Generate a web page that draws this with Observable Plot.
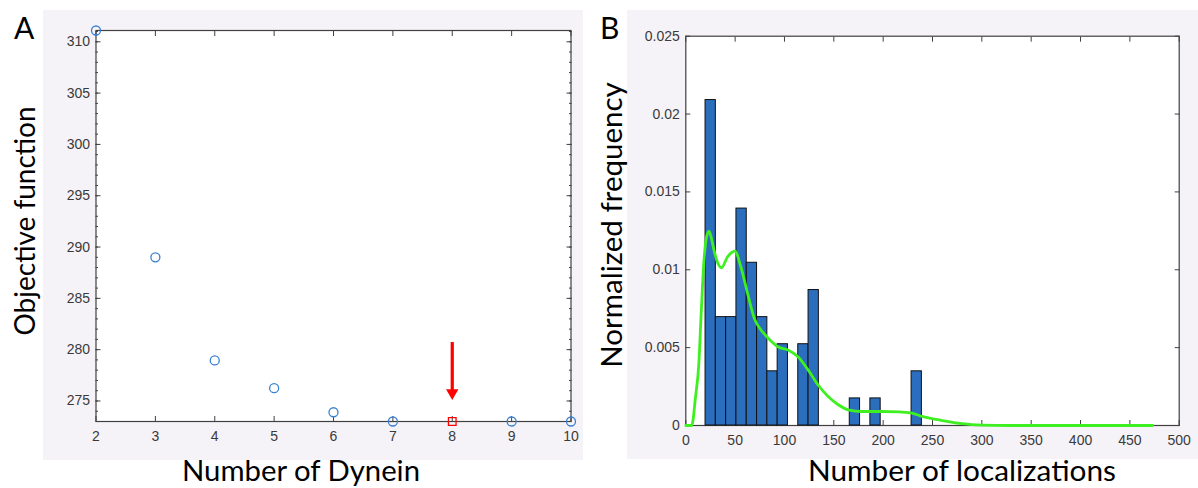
<!DOCTYPE html>
<html><head><meta charset="utf-8">
<script src="https://cdn.jsdelivr.net/npm/d3@7"></script>
<script src="https://cdn.jsdelivr.net/npm/@observablehq/plot@0.6"></script>
<style>
html,body{margin:0;padding:0;background:#fff;}
#root{position:relative;width:1198px;height:488px;overflow:hidden;font-family:Lato,"Open Sans",sans-serif;}
.bg{position:absolute;background:#f6f3f8;}
.panel{position:absolute;top:0;}
.lbl{position:absolute;white-space:nowrap;color:#000;line-height:1;}
.rot{transform:translate(-50%,-50%) rotate(-90deg);}
.hx{transform:translate(-50%,0);}
</style></head><body>
<div id="root">
  <div class="bg" style="left:43px;top:10px;width:540px;height:450px"></div>
  <div class="bg" style="left:627px;top:10px;width:571px;height:449px"></div>
  <div id="pa" class="panel" style="left:0"></div>
  <div id="pb" class="panel" style="left:590px"></div>
  <div class="lbl" style="left:14px;top:12px;font-size:30px">A</div>
  <div class="lbl" style="left:600px;top:12px;font-size:30px">B</div>
  <div class="lbl rot" style="left:24px;top:221px;font-size:28px">Objective function</div>
  <div class="lbl rot" style="left:611px;top:225px;font-size:29.5px">Normalized frequency</div>
  <div class="lbl hx" style="left:301px;top:455px;font-size:29.3px">Number of Dynein</div>
  <div class="lbl hx" style="left:962px;top:455px;font-size:29.8px">Number of localizations</div>
</div>
<script>
// ---------- Panel A data ----------
const dyneinCounts   = [2, 3, 4, 5, 6, 7, 8, 9, 10];
const objectiveValue = [311.1, 289.0, 278.95, 276.25, 273.9, 273.0, 273.0, 273.0, 273.0];
const bestCount = 8;
const arrowStart = 280.7, arrowTip = 275.1;
const xTicksA = [2, 3, 4, 5, 6, 7, 8, 9, 10];
const yTicksA = [275, 280, 285, 290, 295, 300, 305, 310];
const yMinorA = d3.range(273, 312, 1);

// ---------- Panel B data ----------
const binStart = 20, binWidth = 10.44;
const binFrequency = [0.0209, 0.00696, 0.00696, 0.01393, 0.01045, 0.00696, 0.00348, 0.00522, 0,
                      0.00522, 0.0087, 0, 0, 0, 0.00174, 0, 0.00174, 0, 0, 0, 0.00348];
const kdeX = [0, 6, 9.8, 13.2, 15.6, 18.2, 21, 23.5, 26, 28.6, 32, 36.1, 42.2, 49.7, 55.8, 62.6, 69.4,
              76.2, 83.7, 93.3, 103.5, 113.7, 123.9, 134.1, 144.3, 154.5, 164.7, 178.3, 198.7, 215.7,
              229.3, 239.5, 259.9, 280, 300, 330, 473];
const kdeY = [0, 0, 0.0018, 0.00396, 0.0072, 0.0104, 0.0121, 0.01248, 0.012, 0.01125, 0.0105, 0.01013,
              0.01082, 0.0112, 0.01018, 0.00848, 0.00688, 0.00613, 0.0056, 0.00506, 0.00485, 0.00442,
              0.00357, 0.0026, 0.00186, 0.00133, 0.001, 0.0009, 0.0009, 0.00088, 0.0008, 0.00058,
              0.00032, 0.00012, 0.00003, 0, 0];
const xTicksB = [0, 50, 100, 150, 200, 250, 300, 350, 400, 450, 500];
const yTicksB = [0, 0.005, 0.01, 0.015, 0.02, 0.025];

// ---------- tables ----------
const pointsA = dyneinCounts.map((k, i) => ({k, v: objectiveValue[i]}));
const bars = binFrequency.map((f, i) => ({x1: binStart + i * binWidth, x2: binStart + (i + 1) * binWidth, f}))
  .filter(d => d.f > 0);
const kde = kdeX.map((x, i) => ({x, y: kdeY[i]}));

const tickColor = "#404040";
const labelStyle = {background: "transparent", fontFamily: "'Liberation Sans', Arial, sans-serif",
  fontSize: "14px", color: "#333", overflow: "visible"};

function boxAxes(xt, yt, fmtY) {
  return [
    Plot.axisX(xt, {anchor: "bottom", tickSize: -5, fill: "none", stroke: tickColor}),
    Plot.axisX(xt, {anchor: "top", tickSize: -5, fill: "none", stroke: tickColor}),
    Plot.axisY(yt, {anchor: "left", tickSize: -5, fill: "none", stroke: tickColor}),
    Plot.axisY(yt, {anchor: "right", tickSize: -5, fill: "none", stroke: tickColor}),
    Plot.axisX(xt, {anchor: "bottom", tickSize: 0, tickPadding: 10, label: null, fill: "#3a3a3a", fontSize: 14}),
    Plot.axisY(yt, {anchor: "left", tickSize: 0, tickPadding: 6, label: null, fill: "#3a3a3a", fontSize: 14, tickFormat: fmtY})
  ];
}

const chartA = Plot.plot({
  width: 590, height: 488,
  marginLeft: 95.5, marginRight: 19.5, marginTop: 30, marginBottom: 67,
  x: {domain: [2, 10]},
  y: {domain: [273, 311.1]},
  style: labelStyle,
  marks: [
    Plot.frame({fill: "white", stroke: null}),
    ...boxAxes(xTicksA, yTicksA, d => String(d)),
    Plot.axisY(yMinorA, {anchor: "left", tickSize: -2.5, fill: "none", stroke: tickColor}),
    Plot.axisY(yMinorA, {anchor: "right", tickSize: -2.5, fill: "none", stroke: tickColor}),
    Plot.frame({stroke: tickColor, strokeWidth: 1.2}),
    Plot.dot(pointsA.filter(d => d.k !== bestCount), {x: "k", y: "v", r: 4.5, stroke: "#3a80d2", strokeWidth: 1.3, fill: "none"}),
    Plot.dot(pointsA.filter(d => d.k === bestCount), {x: "k", y: "v", r: 4.3, symbol: "square", stroke: "#ff0000", strokeWidth: 1.3, fill: "none"}),
    Plot.ruleX([bestCount], {y1: arrowStart, y2: arrowTip + 0.9, stroke: "#ff0000", strokeWidth: 3.2}),
    Plot.dot([bestCount], {x: d => d, y: () => arrowTip, dy: -7, symbol: "triangle", rotate: 180, r: 4.6, fill: "#ff0000", stroke: "none"})
  ]
});
document.getElementById("pa").append(chartA);

const chartB = Plot.plot({
  width: 608, height: 488,
  marginLeft: 95.3, marginRight: 19.3, marginTop: 35.7, marginBottom: 63,
  x: {domain: [0, 500]},
  y: {domain: [0, 0.025]},
  style: labelStyle,
  marks: [
    Plot.frame({fill: "white", stroke: null}),
    ...boxAxes(xTicksB, yTicksB, d => String(d)),
    Plot.frame({stroke: tickColor, strokeWidth: 1.2}),
    Plot.rectY(bars, {x1: "x1", x2: "x2", y: "f", fill: "#2a6ebd", stroke: "#111", strokeWidth: 1}),
    Plot.line(kde, {x: "x", y: "y", stroke: "#3ff020", strokeWidth: 2.8, curve: "monotone-x"})
  ]
});
document.getElementById("pb").append(chartB);
</script>
</body></html>
